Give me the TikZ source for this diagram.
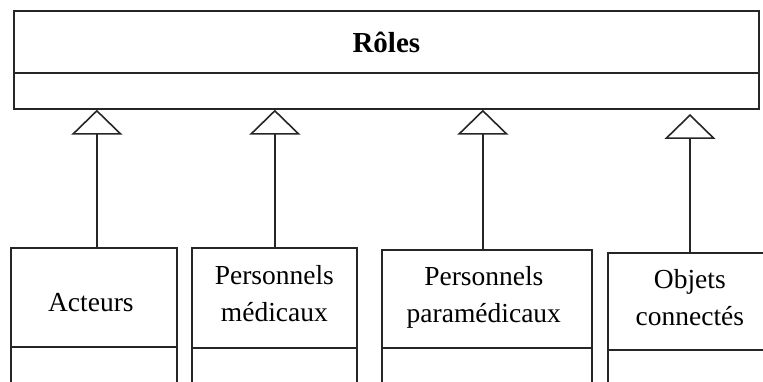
\documentclass[tikz,border=0pt]{standalone}
\usepackage{fontspec}
\setmainfont{Liberation Serif}
\usetikzlibrary{arrows.meta}
\begin{document}
\begin{tikzpicture}[x=1pt,y=-1pt,
  line width=1.7pt,
  compart/.style={draw=black!85, rectangle, inner sep=0pt, anchor=north west},
  classname/.style={inner sep=0pt, align=center, font=\fontsize{27.5}{37}\selectfont},
  inherit/.style={draw=black!85,
    -{Triangle[open, width=51pt, length=25pt, line width=1.6pt]}}
]
\useasboundingbox (0,0) rectangle (763,382);
\clip (0,0) rectangle (763,382);

% parent class
\node[compart, minimum width=745pt, minimum height=62pt] (roles) at (13,10) {};
\node[compart, minimum width=745pt, minimum height=36pt] (rolesops) at (13,72) {};
\node[classname, font=\bfseries\fontsize{29}{34}\selectfont] (roleslabel) at ([yshift=-1pt]roles.center) {Rôles};

% child classes (name compartment + lower compartment)
\node[compart, minimum width=166pt, minimum height=99pt] (acteurs) at (10,247) {};
\node[compart, minimum width=166pt, minimum height=60pt] (acteursops) at (10,346) {};
\node[classname] (acteurslabel) at ([xshift=-3pt,yshift=-5pt]acteurs.center) {Acteurs};

\node[compart, minimum width=165pt, minimum height=100pt] (medicaux) at (191,247) {};
\node[compart, minimum width=165pt, minimum height=60pt] (medicauxops) at (191,347) {};
\node[classname] (medicauxlabel) at ([yshift=4pt]medicaux.center) {Personnels\\médicaux};

\node[compart, minimum width=210pt, minimum height=98pt] (paramed) at (381,249) {};
\node[compart, minimum width=210pt, minimum height=60pt] (paramedops) at (381,347) {};
\node[classname] (paramedlabel) at ([xshift=-3pt,yshift=1pt]paramed.center) {Personnels\\paramédicaux};

\node[compart, minimum width=180pt, minimum height=97pt] (objets) at (607,252) {};
\node[compart, minimum width=180pt, minimum height=60pt] (objetsops) at (607,349) {};
\node[classname] (objetslabel) at ([xshift=-8pt,yshift=4pt]objets.center) {Objets\\connectés};

% generalisation arrows
\coordinate (gap4) at (690,114);
\draw[inherit] ([xshift=3pt]acteurs.north) -- ([xshift=3pt]acteurs.north |- rolesops.south);
\draw[inherit] ([xshift=0.5pt]medicaux.north) -- ([xshift=0.5pt]medicaux.north |- rolesops.south);
\draw[inherit] ([xshift=-4pt]paramed.north) -- ([xshift=-4pt]paramed.north |- rolesops.south);
\draw[inherit] (objets.north -| gap4) -- (gap4);
\end{tikzpicture}
\end{document}
